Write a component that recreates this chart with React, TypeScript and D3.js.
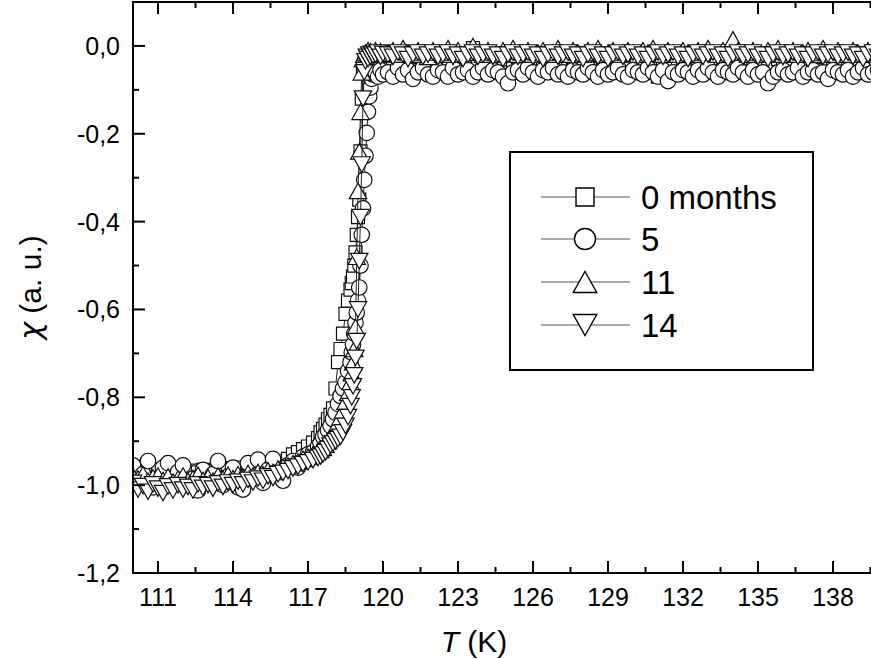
import React from "react";
import * as d3 from "d3";

// ---------- data ----------
const temps = [
  110.0,110.2,110.4,110.6,110.8,111.0,111.2,111.4,111.6,111.8,112.0,112.2,112.4,112.6,112.8,113.0,113.2,113.4,113.6,113.8,
  114.0,114.2,114.4,114.6,114.8,115.0,115.2,115.4,115.6,115.8,116.0,116.2,116.4,116.6,116.8,117.0,117.2,117.4,
  117.5,117.6,117.7,117.8,117.9,118.0,118.1,118.2,118.3,118.4,118.5,118.6,118.7,
  118.75,118.8,118.85,118.9,118.95,119.0,119.05,119.1,119.15,119.2,119.25,119.3,119.35,119.4,119.45,119.5,119.55,119.6,
  119.7,119.8,119.9,120.0,
  120.2,120.4,120.6,120.8,121.0,121.2,121.4,121.6,121.8,122.0,
  122.2,122.4,122.6,122.8,123.0,123.2,123.4,123.6,123.8,124.0,
  124.2,124.4,124.6,124.8,125.0,125.2,125.4,125.6,125.8,126.0,
  126.2,126.4,126.6,126.8,127.0,127.2,127.4,127.6,127.8,128.0,
  128.2,128.4,128.6,128.8,129.0,129.2,129.4,129.6,129.8,130.0,
  130.2,130.4,130.6,130.8,131.0,131.2,131.4,131.6,131.8,132.0,
  132.2,132.4,132.6,132.8,133.0,133.2,133.4,133.6,133.8,134.0,
  134.2,134.4,134.6,134.8,135.0,135.2,135.4,135.6,135.8,136.0,
  136.2,136.4,136.6,136.8,137.0,137.2,137.4,137.6,137.8,138.0,
  138.2,138.4,138.6,138.8,139.0,139.2,139.4,139.6,139.8,140.0,
];

const chi0months = [
  -.958,-.962,-.966,-.960,-.968,-.964,-.970,-.965,-.972,-.966,-.969,-.974,-.967,-.971,-.965,-.972,-.968,-.963,-.970,-.964,
  -.961,-.967,-.960,-.964,-.957,-.962,-.955,-.958,-.950,-.952,-.945,-.940,-.930,-.925,-.918,-.912,-.903,-.893,
  -.88,-.872,-.862,-.85,-.84,-.825,-.78,-.72,-.69,-.655,-.61,-.58,-.555,
  -.54,-.525,-.50,-.47,-.43,-.39,-.35,-.24,-.12,-.06,-.04,-.035,-.04,-.03,-.045,-.035,-.04,-.03,
  -.045,-.035,-.05,-.03,
  -.040,-.030,-.050,-.035,-.045,-.030,-.055,-.040,-.035,-.050,
  -.045,-.030,-.040,-.060,-.035,-.025,-.045,-.005,-.040,-.050,
  -.035,-.045,-.030,-.040,-.060,-.035,-.025,-.045,-.050,-.035,
  -.040,-.030,-.045,-.035,-.050,-.030,-.040,-.055,-.035,-.045,
  -.030,-.040,-.050,-.035,-.045,-.025,-.040,-.050,-.035,-.060,
  -.040,-.030,-.045,-.035,-.070,-.040,-.030,-.045,-.050,-.035,
  -.040,-.025,-.045,-.035,-.050,-.040,-.030,-.045,-.035,-.050,
  -.040,-.030,-.045,-.035,-.025,-.045,-.040,-.050,-.030,-.040,
  -.045,-.035,-.050,-.040,-.030,-.045,-.035,-.055,-.040,-.030,
  -.045,-.035,-.050,-.040,-.030,-.060,-.035,-.045,-.040,-.035,
];

const chi5months = [
  -.955,-.990,-.975,-.945,-1.005,-.985,-.960,-.950,-.995,-.970,-.955,-1.000,-.985,-1.012,-.965,-.990,-.975,-.945,-1.000,-.980,
  -.960,-1.005,-1.010,-.950,-.985,-.942,-.995,-.965,-.940,-.975,-.990,-.955,-.945,-.960,-.935,-.930,-.925,-.912,
  -.905,-.89,-.885,-.875,-.865,-.85,-.835,-.815,-.797,-.78,-.766,-.74,-.72,
  -.698,-.68,-.655,-.63,-.607,-.58,-.55,-.50,-.43,-.37,-.305,-.25,-.198,-.15,-.115,-.095,-.075,-.065,
  -.06,-.07,-.055,-.065,
  -.060,-.070,-.050,-.065,-.055,-.075,-.060,-.050,-.065,-.070,
  -.055,-.060,-.070,-.050,-.065,-.060,-.055,-.070,-.060,-.050,
  -.065,-.055,-.060,-.070,-.085,-.060,-.055,-.065,-.050,-.060,
  -.070,-.055,-.060,-.050,-.065,-.060,-.070,-.055,-.060,-.065,
  -.050,-.060,-.070,-.055,-.065,-.060,-.050,-.065,-.070,-.055,
  -.060,-.065,-.050,-.060,-.070,-.055,-.080,-.060,-.065,-.055,
  -.060,-.070,-.055,-.065,-.050,-.060,-.070,-.055,-.060,-.065,
  -.050,-.060,-.070,-.055,-.065,-.060,-.085,-.070,-.060,-.055,
  -.065,-.060,-.050,-.070,-.060,-.055,-.065,-.060,-.075,-.055,
  -.060,-.065,-.055,-.070,-.060,-.050,-.065,-.060,-.055,-.070,
];

const chi11months = [
  -.980,-.985,-.975,-.990,-.982,-.978,-.988,-.980,-.992,-.985,-.978,-.990,-.984,-.976,-.988,-.982,-.990,-.978,-.985,-.976,
  -.984,-.975,-.982,-.972,-.978,-.970,-.975,-.966,-.970,-.962,-.958,-.955,-.950,-.946,-.940,-.935,-.930,-.922,
  -.92,-.915,-.908,-.90,-.89,-.88,-.87,-.858,-.845,-.83,-.81,-.79,-.765,
  -.745,-.72,-.69,-.64,-.48,-.33,-.24,-.15,-.06,-.03,-.02,-.015,-.02,-.01,-.018,-.012,-.02,-.015,
  -.01,-.02,-.012,-.018,
  -.015,-.010,-.020,-.005,-.015,-.020,-.010,-.015,-.025,-.010,
  -.015,-.020,-.005,-.015,-.010,-.020,-.015,.000,-.015,-.020,
  -.010,-.015,-.020,-.010,-.015,-.005,-.020,-.015,-.010,-.020,
  -.015,-.010,-.020,-.015,-.005,-.015,-.020,-.010,-.015,-.020,
  -.010,-.015,-.005,-.020,-.015,-.010,-.020,-.015,-.010,-.015,
  -.020,-.010,-.015,-.005,-.015,-.020,-.010,-.015,-.020,-.010,
  -.015,-.020,-.010,-.015,-.005,-.015,-.020,-.010,-.015,.015,
  -.010,-.015,-.020,-.010,-.015,-.020,-.010,-.015,-.005,-.020,
  -.015,-.010,-.020,-.015,-.010,-.020,-.015,-.005,-.015,-.020,
  -.010,-.015,-.020,-.010,-.015,-.020,-.010,-.015,-.020,-.010,
];

const chi14months = [
  -.995,-1.010,-1.002,-1.015,-.998,-1.008,-1.018,-1.003,-1.012,-1.000,-1.010,-1.004,-1.012,-.998,-1.006,-1.000,-1.008,-.996,-1.004,-.994,
  -1.000,-.992,-.998,-.988,-.994,-.985,-.990,-.980,-.984,-.975,-.972,-.968,-.962,-.958,-.952,-.948,-.943,-.938,
  -.935,-.93,-.925,-.918,-.91,-.905,-.90,-.895,-.89,-.88,-.865,-.845,-.82,
  -.80,-.775,-.75,-.71,-.672,-.60,-.49,-.39,-.27,-.12,-.06,-.035,-.025,-.03,-.02,-.025,-.018,-.022,
  -.02,-.015,-.025,-.018,
  -.020,-.025,-.015,-.020,-.030,-.020,-.015,-.025,-.020,-.015,
  -.025,-.020,-.015,-.025,-.020,-.030,-.020,-.015,-.025,-.020,
  -.015,-.025,-.020,-.030,-.020,-.015,-.025,-.020,-.015,-.025,
  -.020,-.030,-.020,-.015,-.025,-.020,-.015,-.025,-.020,-.030,
  -.020,-.015,-.025,-.020,-.030,-.020,-.015,-.025,-.020,-.015,
  -.025,-.020,-.030,-.020,-.015,-.025,-.020,-.015,-.025,-.020,
  -.030,-.020,-.015,-.025,-.020,-.015,-.025,-.020,-.030,-.020,
  -.015,-.025,-.020,-.015,-.025,-.020,-.030,-.020,-.015,-.025,
  -.020,-.015,-.025,-.020,-.030,-.020,-.015,-.025,-.020,-.015,
  -.025,-.020,-.015,-.025,-.020,-.030,-.020,-.015,-.025,-.020,
];

const seriesLabels = ["0 months", "5", "11", "14"];
const seriesShapes = ["square", "circle", "up", "down"];
const seriesValues = [chi0months, chi5months, chi11months, chi14months];

const xTicks = [111, 114, 117, 120, 123, 126, 129, 132, 135, 138];
const xMinorTicks = [112.5, 115.5, 118.5, 121.5, 124.5, 127.5, 130.5, 133.5, 136.5, 139.5];
const yTicks = [0, -0.2, -0.4, -0.6, -0.8, -1.0, -1.2];
const yMinorTicks = [0.1, -0.1, -0.3, -0.5, -0.7, -0.9, -1.1];

// ---------- layout ----------
const W = 871, H = 659;
const L = 133, R = 883, T = 2, B = 573;
const FONT = "Arial, 'Liberation Sans', Helvetica, sans-serif";

function markerPath(shape: string, s: number): string {
  if (shape === "square") {
    const h = s / 2;
    return `M${-h},${-h}H${h}V${h}H${-h}Z`;
  }
  if (shape === "circle") {
    const r = s / 2;
    return `M${r},0A${r},${r} 0 1,1 ${-r},0A${r},${r} 0 1,1 ${r},0Z`;
  }
  const w = s * 1.12, h = s;
  if (shape === "up") return `M0,${-h / 2}L${w / 2},${h / 2}L${-w / 2},${h / 2}Z`;
  return `M0,${h / 2}L${w / 2},${-h / 2}L${-w / 2},${-h / 2}Z`;
}

const plotSize: Record<string, number> = { square: 13, circle: 15.5, up: 15.5, down: 15.5 };
const legendSize: Record<string, number> = { square: 18, circle: 21, up: 21, down: 21 };

export default function App() {
  const x = d3.scaleLinear().domain([110, 140]).range([L, R]);
  const y = d3.scaleLinear().domain([-1.2, 0.1]).range([B, T]);
  const line = d3.line<number>().x((_, i) => x(temps[i])).y((d) => y(d));
  const fmt = (v: number) => v.toFixed(1).replace(".", ",");

  const legendRows = [197, 239, 282, 325];

  return (
    <svg width={W} height={H} style={{ position: "absolute", left: 0, top: 0, background: "#fff" }}>
      <defs>
        <clipPath id="plotclip">
          <rect x={L} y={T} width={R - L} height={B - T} />
        </clipPath>
      </defs>
      <rect x={0} y={0} width={W} height={H} fill="#fff" />
      <g clipPath="url(#plotclip)">
        {seriesValues.map((vals, si) => (
          <g key={si}>
            <path d={line(vals) || ""} fill="none" stroke="#222" strokeWidth={1} />
            {vals.map((v, i) => (
              <path
                key={i}
                transform={`translate(${x(temps[i])},${y(v)})`}
                d={markerPath(seriesShapes[si], plotSize[seriesShapes[si]])}
                fill="#fff"
                stroke="#111"
                strokeWidth={1.2}
              />
            ))}
          </g>
        ))}
      </g>

      {/* frame */}
      <rect x={L} y={T} width={R - L} height={B - T} fill="none" stroke="#000" strokeWidth={2} />

      {/* x ticks */}
      {xTicks.map((t) => (
        <g key={"xt" + t}>
          <line x1={x(t)} x2={x(t)} y1={B} y2={B - 12} stroke="#000" strokeWidth={2} />
          <line x1={x(t)} x2={x(t)} y1={T} y2={T + 12} stroke="#000" strokeWidth={2} />
          <text x={x(t)} y={606} textAnchor="middle" fontFamily={FONT} fontSize={25} fill="#000">
            {t}
          </text>
        </g>
      ))}
      {xMinorTicks.map((t) => (
        <g key={"xm" + t}>
          <line x1={x(t)} x2={x(t)} y1={B} y2={B - 6} stroke="#000" strokeWidth={2} />
          <line x1={x(t)} x2={x(t)} y1={T} y2={T + 6} stroke="#000" strokeWidth={2} />
        </g>
      ))}

      {/* y ticks */}
      {yTicks.map((t) => (
        <g key={"yt" + t}>
          <line x1={L} x2={L + 12} y1={y(t)} y2={y(t)} stroke="#000" strokeWidth={2} />
          <line x1={R} x2={R - 12} y1={y(t)} y2={y(t)} stroke="#000" strokeWidth={2} />
          <text x={120} y={y(t) + 9} textAnchor="end" fontFamily={FONT} fontSize={25} fill="#000">
            {fmt(t)}
          </text>
        </g>
      ))}
      {yMinorTicks.map((t) => (
        <g key={"ym" + t}>
          <line x1={L} x2={L + 6} y1={y(t)} y2={y(t)} stroke="#000" strokeWidth={2} />
          <line x1={R} x2={R - 6} y1={y(t)} y2={y(t)} stroke="#000" strokeWidth={2} />
        </g>
      ))}

      {/* axis titles */}
      <text x={474} y={652} textAnchor="middle" fontFamily={FONT} fontSize={30} fill="#000">
        <tspan fontStyle="italic">T</tspan>
        <tspan> (K)</tspan>
      </text>
      <text
        transform={`translate(41,${(T + B) / 2}) rotate(-90)`}
        textAnchor="middle"
        fontFamily={FONT}
        fontSize={30}
        fill="#000"
      >
        <tspan fontFamily="'DejaVu Sans', sans-serif" fontStyle="italic">χ</tspan>
        <tspan> (a. u.)</tspan>
      </text>

      {/* legend */}
      <rect x={510} y={152} width={303} height={218} fill="#fff" stroke="#000" strokeWidth={2} />
      {seriesLabels.map((lab, i) => (
        <g key={lab}>
          <line x1={541} x2={630} y1={legendRows[i]} y2={legendRows[i]} stroke="#555" strokeWidth={1} />
          <path
            transform={`translate(585,${legendRows[i]})`}
            d={markerPath(seriesShapes[i], legendSize[seriesShapes[i]])}
            fill="#fff"
            stroke="#000"
            strokeWidth={1.4}
          />
          <text x={641} y={legendRows[i] + 11.5} fontFamily={FONT} fontSize={33} fill="#000">
            {lab}
          </text>
        </g>
      ))}
    </svg>
  );
}
